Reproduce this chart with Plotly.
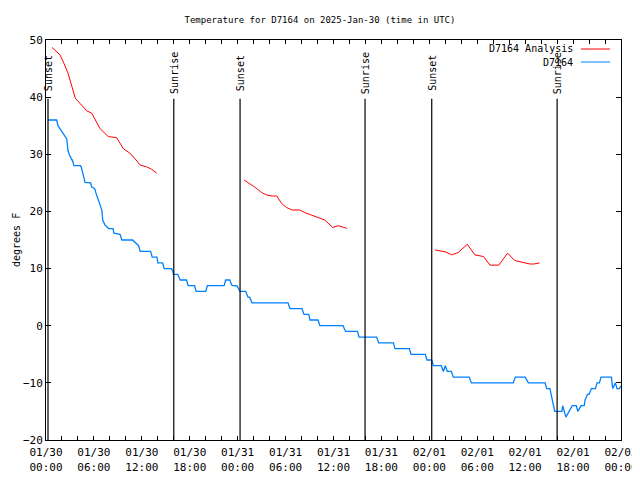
import pandas as pd
import plotly.graph_objects as go

BASE = pd.Timestamp("2025-01-30 00:00")
TITLE = "Temperature for D7164 on 2025-Jan-30 (time in UTC)"

# Observed (D7164) – hours after 01/30 00:00 UTC and deg F
obs_hours = [0.25, 1.34, 1.5, 1.75, 2.0, 2.3, 2.5, 2.6, 2.75, 2.9, 3.25, 3.3, 3.5, 4.3, 4.4, 4.9, 5.6, 5.7,
             6.1, 6.26, 7.0, 7.1, 7.4, 7.85, 8.4, 8.5, 9.27, 9.5, 10.85, 11.0, 11.6, 11.8, 13.1, 13.3,
             13.9, 14.0, 14.6, 14.8, 15.7, 15.9, 15.95, 16.5, 16.8, 17.6, 17.8, 18.6, 18.8, 20.0, 20.2,
             22.3, 22.5, 23.0, 23.3, 23.9, 24.1, 24.3, 25.0, 25.3, 25.5, 25.8, 30.3, 30.55, 32.05, 32.3,
             32.9, 33.06, 34.06, 34.3, 37.2, 37.5, 39.0, 39.2, 41.4, 41.66, 43.5, 43.7, 45.5, 45.7, 47.5,
             47.7, 48.3, 48.5, 49.5, 49.75, 50.0, 50.25, 50.75, 51.0, 53.0, 53.26, 58.5, 58.77, 60.0,
             60.4, 62.5, 62.7, 63.1, 63.4, 63.7, 64.6, 64.7, 65.1, 65.5, 65.9, 66.4, 66.6, 67.0, 67.4,
             67.5, 67.8, 68.0, 68.3, 68.8, 69.0, 69.3, 69.5, 70.8, 70.96, 71.3, 71.5, 71.8, 72.0]
obs_temp = [36, 36, 35, 34.5, 34, 33.5, 33, 32.7, 30.7, 30, 29, 29, 28, 28, 27.8, 25.1, 25, 24.3,
            24, 23.2, 20.2, 18.5, 17.6, 17, 17, 16.2, 16, 15, 15, 14.8, 14, 13, 13, 12,
            12, 11, 11, 10, 10, 9.5, 9, 9, 8, 8, 7, 7, 6, 6, 7,
            7, 8, 8, 7, 7, 6.4, 6, 6, 5, 5, 4, 4, 3, 3, 2,
            2, 1, 1, 0, 0, -1, -1, -2, -2, -3, -3, -4, -4, -5, -5,
            -6, -6, -7, -7, -8, -7, -8, -8, -9, -9, -10, -10, -9, -9,
            -10, -10, -11, -11, -13, -15, -15, -14, -16, -15, -14, -14, -15, -14, -14,
            -13, -12, -12, -11, -11, -10, -10, -9, -9, -11, -10, -11, -11, -10.5]

# Analysis (D7164 Analysis) – three segments
ana1_hours = [0.75, 1.75, 2.25, 2.75, 3.26, 3.67, 4.26, 5.1, 5.72, 6.14, 6.76, 7.8, 8.85, 9.68,
              10.5, 11.1, 11.8, 12.6, 13.2, 13.86]
ana1_temp = [48.7, 47.4, 45.9, 44.2, 41.8, 39.8, 38.9, 37.6, 37.2, 36.0, 34.5, 33.1, 32.9, 31.0,
             30.2, 29.3, 28.1, 27.8, 27.4, 26.7]
ana2_hours = [24.8, 25.5, 26.2, 27.0, 27.6, 28.3, 28.9, 29.5, 30.1, 30.8, 31.8, 32.4, 33.1, 33.7,
              34.3, 34.9, 35.9, 36.6, 37.65]
ana2_temp = [25.5, 24.9, 24.2, 23.3, 22.9, 22.7, 22.7, 21.4, 20.7, 20.25, 20.25, 19.8, 19.4, 19.1,
             18.8, 18.5, 17.2, 17.5, 17.05]
ana3_hours = [48.7, 49.3, 49.96, 50.8, 51.6, 52.75, 53.7, 54.8, 55.6, 56.7, 57.8, 58.7, 59.8, 60.6,
              61.1, 61.8]
ana3_temp = [13.25, 13.1, 12.95, 12.4, 12.8, 14.25, 12.4, 12.1, 10.6, 10.6, 12.7, 11.4, 11.1, 10.8,
             10.8, 11.0]

# Sun events
event_hours = [0.25, 16.0, 24.3, 39.95, 48.3, 64.0]
event_names = ["Sunset", "Sunrise", "Sunset", "Sunrise", "Sunset", "Sunrise"]

# Axis ticks
tick_hours = list(range(0, 73, 2))
tick_labels = {0: "01/30<br>00:00", 6: "01/30<br>06:00", 12: "01/30<br>12:00", 18: "01/30<br>18:00",
               24: "01/31<br>00:00", 30: "01/31<br>06:00", 36: "01/31<br>12:00", 42: "01/31<br>18:00",
               48: "02/01<br>00:00", 54: "02/01<br>06:00", 60: "02/01<br>12:00", 66: "02/01<br>18:00",
               72: "02/02<br>00:00"}
y_ticks = [-20, -10, 0, 10, 20, 30, 40, 50]


def t(h):
    return BASE + pd.to_timedelta(h, unit="h")


FONT = "DejaVu Sans Mono"
# page body has an 8px margin: figure is 632x472 so that it fills 8..640 x 8..480
OFF = 8
W, H = 640 - OFF, 480 - OFF
PL, PR, PT, PB = 46, 621, 40, 440  # plot box in window pixels
PW, PH = PR - PL, PB - PT

fig = go.Figure()

ana_x, ana_y = [], []
for hs, vs in [(ana1_hours, ana1_temp), (ana2_hours, ana2_temp), (ana3_hours, ana3_temp)]:
    ana_x += [t(h) for h in hs] + [None]
    ana_y += list(vs) + [None]
fig.add_trace(go.Scatter(x=ana_x, y=ana_y, mode="lines", name="D7164 Analysis",
                         line=dict(color="#ff0000", width=1), connectgaps=False))
fig.add_trace(go.Scatter(x=[t(h) for h in obs_hours], y=obs_temp, mode="lines", name="D7164",
                         line=dict(color="#0080ff", width=1.3)))

for h, name in zip(event_hours, event_names):
    fig.add_shape(type="line", xref="x", yref="y", x0=t(h), x1=t(h), y0=-20, y1=39.7,
                  line=dict(color="black", width=1.2))
    fig.add_annotation(x=t(h), y=44.2, xref="x", yref="y", text=name, textangle=-90,
                       showarrow=False, xanchor="center", yanchor="middle",
                       font=dict(family=FONT, size=10, color="black"))


def px(xp):
    return (xp - PL) / PW


def py(yp):
    return (PB - yp) / PH


# gnuplot-style key (text right, sample on the right)
for i, (name, col) in enumerate([("D7164 Analysis", "#ff0000"), ("D7164", "#0080ff")]):
    yy = 49 + i * 13
    fig.add_annotation(x=px(575), y=py(yy), xref="paper", yref="paper", text=name, showarrow=False,
                       xanchor="right", yanchor="middle",
                       font=dict(family=FONT, size=10, color="black"))
    fig.add_shape(type="line", xref="paper", yref="paper", x0=px(581), x1=px(610), y0=py(yy), y1=py(yy),
                  line=dict(color=col, width=1))

# y-axis title as rotated text left of the axis
fig.add_annotation(x=px(16), y=0.5, xref="paper", yref="paper", text="degrees F", showarrow=False,
                   textangle=-90, xanchor="center", yanchor="middle",
                   font=dict(family=FONT, size=10, color="black"))

fig.update_layout(
    width=W, height=H,
    margin=dict(l=PL - OFF, r=640 - PR, t=PT - OFF, b=480 - PB, pad=0, autoexpand=False),
    paper_bgcolor="white", plot_bgcolor="white",
    showlegend=False,
    font=dict(family=FONT, size=11, color="black"),
    title=dict(text=TITLE, x=(320 - OFF) / W, xanchor="center", xref="container",
               y=1 - (19.5 - OFF) / H, yanchor="middle",
               font=dict(family=FONT, size=9, color="black"), automargin=False),
)
fig.update_xaxes(
    range=[t(0), t(72)], tickmode="array",
    tickvals=[t(h) for h in tick_hours],
    ticktext=[tick_labels.get(h, "") for h in tick_hours],
    ticks="inside", ticklen=4, tickcolor="black", mirror="allticks",
    showline=True, linecolor="black", linewidth=1, showgrid=False, zeroline=False,
    tickangle=0, automargin=False, ticklabelstandoff=2,
)
fig.update_yaxes(
    range=[-20, 50], tickmode="array", tickvals=y_ticks,
    ticks="inside", ticklen=5, tickcolor="black", mirror="allticks",
    showline=True, linecolor="black", linewidth=1, showgrid=False, zeroline=False,
    automargin=False,
)

fig.write_html("out.html")
